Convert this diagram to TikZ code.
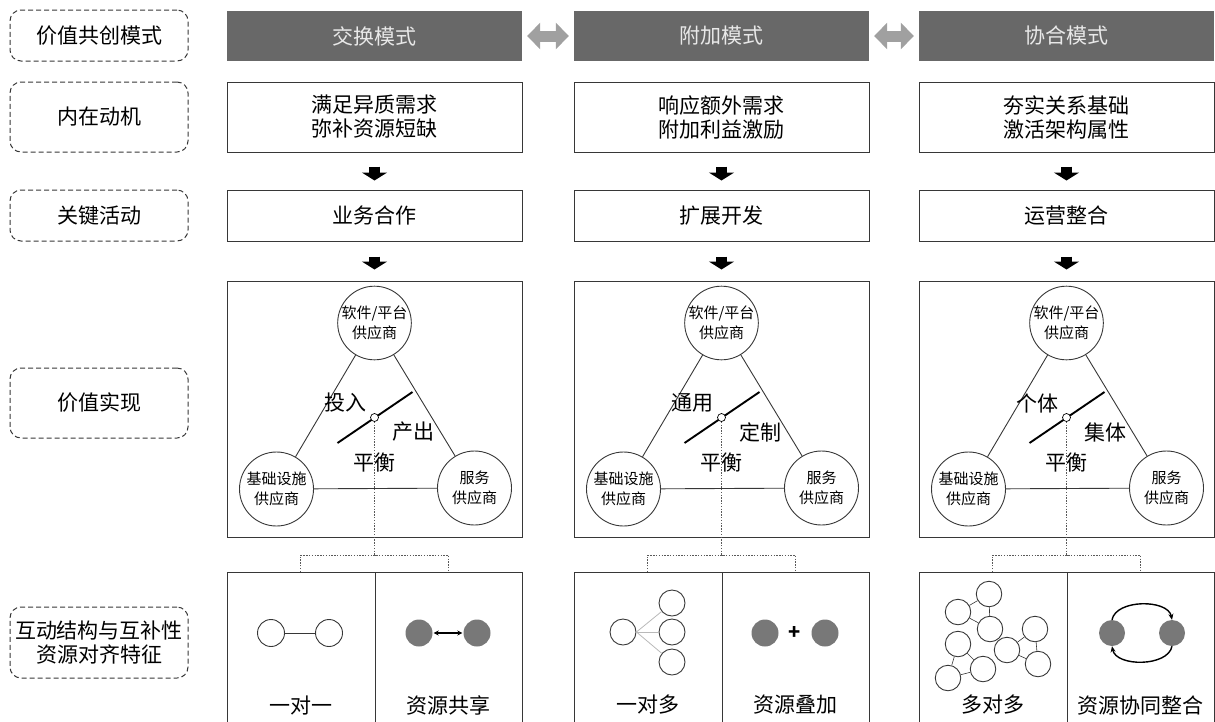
\documentclass[tikz,border=0pt]{standalone}
\usepackage{fontspec}
\setmainfont{Noto Sans CJK SC}
\usetikzlibrary{arrows.meta,calc}
\definecolor{hdrfill}{RGB}{104,104,104}
\definecolor{hdrtext}{RGB}{232,232,232}
\definecolor{lineg}{RGB}{55,55,55}
\definecolor{ballg}{RGB}{120,120,120}
\definecolor{dblg}{RGB}{160,160,160}
\begin{document}
\begin{tikzpicture}[x=1pt,y=-1pt,
  txt/.style={font=\fontsize{21}{24}\selectfont, align=center},
  lbl/.style={txt, draw=lineg, line width=1pt, dash pattern=on 5pt off 3pt, rounded corners=11pt, minimum width=178pt, inner sep=0pt},
  hdr/.style={txt, fill=hdrfill, text=hdrtext, minimum width=295pt, minimum height=50pt, inner sep=0pt},
  cbox/.style={txt, draw=lineg, line width=1pt, minimum width=295pt, inner sep=0pt},
  subbox/.style={draw=lineg, line width=1pt, minimum width=147.5pt, minimum height=170pt, anchor=north west, inner sep=0pt},
  bigc/.style={circle, draw=lineg, line width=0.9pt, inner sep=0pt, align=center, font=\fontsize{15}{19.5}\selectfont},
  smc/.style={circle, draw=lineg, line width=0.9pt, fill=white, minimum size=26pt, inner sep=0pt},
  ball/.style={circle, fill=ballg, minimum size=27pt, inner sep=0pt},
  tri/.style={draw=lineg, line width=0.9pt},
  thinl/.style={draw=lineg, line width=0.6pt},
  dotl/.style={draw=gray!70!black, line width=0.9pt, dash pattern=on 1.4pt off 1.4pt},
  downarrow/.style={draw=black, line width=11pt, -{Triangle[width=25pt,length=8pt]}},
  dblarrow/.style={draw=dblg, line width=11pt, {Triangle[width=26pt,length=13pt]}-{Triangle[width=26pt,length=13pt]}},
  arcarrow/.style={draw=black, line width=1.4pt, -{Stealth[length=6pt,width=5pt]}}
]
\useasboundingbox (0,0) rectangle (1215,721);

% left labels
\node[lbl, minimum height=51pt] (L1) at (99,35.5) {价值共创模式};
\node[lbl, minimum height=70pt] (L2) at (99,117) {内在动机};
\node[lbl, minimum height=51pt] (L3) at (99,215.5) {关键活动};
\node[lbl, minimum height=70pt] (L4) at (99,403) {价值实现};
\node[lbl, minimum height=71pt] (L5) at (99,642.5) {互动结构与互补性\\资源对齐特征};

\foreach \i/\c/\hd/\mot/\act/\la/\lb/\bl/\br in {
  1/374.5/交换模式/{满足异质需求\\弥补资源短缺}/业务合作/投入/产出/一对一/资源共享,
  2/721.5/附加模式/{响应额外需求\\附加利益激励}/扩展开发/通用/定制/一对多/资源叠加,
  3/1066.5/协合模式/{夯实关系基础\\激活架构属性}/运营整合/个体/集体/多对多/资源协同整合}{
  \node[hdr] (H\i) at (\c,36) {\hd};
  \node[cbox, minimum height=70pt] (M\i) at (\c,117) {\mot};
  \node[cbox, minimum height=51pt] (A\i) at (\c,215.5) {\act};
  \node[draw=lineg, line width=1pt, minimum width=295pt, minimum height=256pt, inner sep=0pt] (V\i) at (\c,409) {};
  \draw[downarrow, shorten <=14pt, shorten >=9pt] (M\i.south) -- (A\i.north);
  \draw[downarrow, shorten <=15pt, shorten >=11pt] (A\i.south) -- (V\i.north);
  % triangle
  \node[bigc, minimum size=69pt] (T\i) at (\c,323) {软件/平台\\供应商};
  \node[bigc, minimum size=74pt] (I\i) at (\c-98,489) {基础设施\\供应商};
  \node[bigc, minimum size=74pt] (S\i) at (\c+100,488) {服务\\供应商};
  \draw[tri] (T\i) -- (I\i);
  \draw[tri] (T\i) -- (S\i);
  \draw[tri] (I\i) -- (S\i);
  \coordinate (P\i a) at (\c-37,443);
  \coordinate (P\i b) at (\c+38,392);
  \draw[line width=1.9pt, black] (P\i a) -- (P\i b);
  % bottom boxes
  \node[subbox] (BL\i) at (\c-147.5,572) {};
  \node[subbox] (BR\i) at (\c,572) {};
  \coordinate (K\i) at (\c,555);
  \coordinate (KL\i) at (\c-73.75,572);
  \coordinate (KR\i) at (\c+73.75,572);
  \node[circle, draw=black, line width=0.7pt, fill=white, minimum size=8pt, inner sep=0pt] (C\i) at (\c,417.5) {};
  \draw[dotl] (C\i) -- (K\i);
  \draw[dotl] (KL\i) |- (K\i) -| (KR\i);
  \node[txt] (la\i) at (\c-29,403) {\la};
  \node[txt] (lb\i) at (\c+39,432) {\lb};
  \node[txt] (pb\i) at (\c,463) {平衡};
  \node[txt] (bl\i) at (\c-73.75,705) {\bl};
  \node[txt] (br\i) at (\c+73.75,705) {\br};
}

% double arrows between headers
\draw[dblarrow, shorten <=5pt, shorten >=5pt] (H1.east) -- (H2.west);
\draw[dblarrow, shorten <=5pt, shorten >=5pt] (H2.east) -- (H3.west);

% one-to-one
\node[smc, minimum size=27pt] (O1) at (271,633) {};
\node[smc, minimum size=27pt] (O2) at (329,633) {};
\draw[thinl] (O1) -- (O2);
% resource sharing
\node[ball] (G1) at (419,633) {};
\node[ball] (G2) at (477,633) {};
\draw[black, line width=1.4pt, {Stealth[length=5pt,width=5pt]}-{Stealth[length=5pt,width=5pt]}, shorten <=1pt, shorten >=1pt] (G1) -- (G2);

% one-to-many
\node[smc] (N1) at (623,632) {};
\node[smc] (N2) at (672,603) {};
\node[smc] (N3) at (672,632) {};
\node[smc] (N4) at (672,662) {};
\draw[draw=gray!55, line width=0.8pt] (N1.east) -- (N2);
\draw[draw=gray!55, line width=0.8pt] (N1.east) -- (N3);
\draw[draw=gray!55, line width=0.8pt] (N1.east) -- (N4);
% resource overlay
\node[ball] (G3) at (765,633) {};
\node[ball] (G4) at (825,633) {};
\node[font=\fontsize{20}{20}\selectfont\bfseries, inner sep=0pt] (plus) at (795,633) {+};

% many-to-many
\node[smc, minimum size=25.5pt] (Ma) at (989,594) {};
\node[smc, minimum size=25.5pt] (Mb) at (958,612) {};
\node[smc, minimum size=25.5pt] (Mc) at (990,629) {};
\node[smc, minimum size=25.5pt] (Md) at (958,644) {};
\node[smc, minimum size=25.5pt] (Me) at (1035,629) {};
\node[smc, minimum size=25.5pt] (Mf) at (1007,650) {};
\node[smc, minimum size=25.5pt] (Mg) at (1038,664) {};
\node[smc, minimum size=25.5pt] (Mh) at (983,669) {};
\node[smc, minimum size=25.5pt] (Mi) at (948,678) {};
\draw[thinl] (Ma) -- (Mb);
\draw[thinl] (Ma) -- (Mc);
\draw[thinl] (Mb) -- (Mc);
\draw[thinl] (Md) -- (Mi);
\draw[thinl] (Md) -- (Mh);
\draw[thinl] (Mh) -- (Mi);
\draw[thinl] (Mf) -- (Me);
\draw[thinl] (Me) -- (Mg);
\draw[thinl] (Mf) -- (Mg);

% resource integration
\node[ball, minimum size=26pt] (G5) at (1112,633) {};
\node[ball, minimum size=26pt] (G6) at (1172,633) {};
\draw[arcarrow] (G5.north) .. controls (1116,599) and (1168,599) .. (G6.north);
\draw[arcarrow] (G6.south) .. controls (1168,667) and (1116,667) .. (G5.south);
\end{tikzpicture}
\end{document}
